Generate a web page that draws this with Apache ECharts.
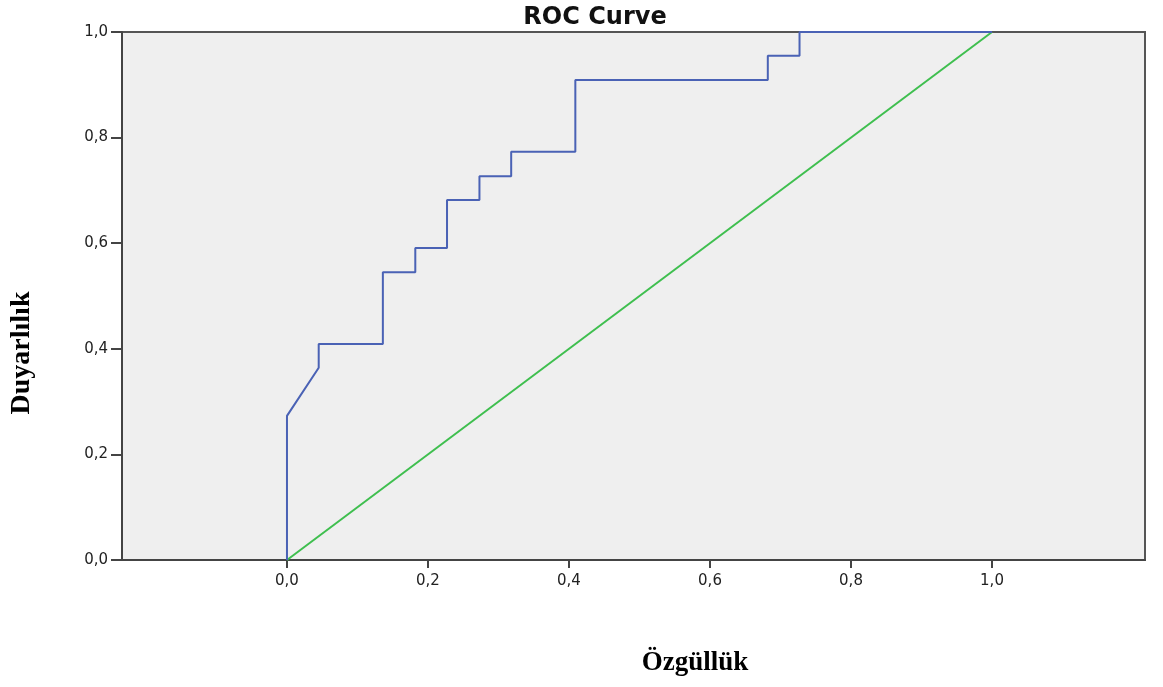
<!DOCTYPE html>
<html>
<head>
<meta charset="utf-8">
<script src="https://cdn.jsdelivr.net/npm/echarts@6/dist/echarts.min.js"></script>
<style>
html,body{margin:0;padding:0;background:#fff;}
#chart{width:1163px;height:687px;}
</style>
</head>
<body>
<div id="chart"></div>
<script>
// ROC curve points (1 - specificity, sensitivity)
const rocX = [0, 0, 0.045, 0.045, 0.136, 0.136, 0.182, 0.182, 0.227, 0.227, 0.273, 0.273, 0.318, 0.318, 0.409, 0.409, 0.682, 0.682, 0.727, 0.727, 1.0];
const rocY = [0, 0.273, 0.364, 0.409, 0.409, 0.545, 0.545, 0.591, 0.591, 0.682, 0.682, 0.727, 0.727, 0.773, 0.773, 0.909, 0.909, 0.955, 0.955, 1.0, 1.0];
// reference line
const refX = [0, 1];
const refY = [0, 1];
// tick values
const xTicks = [0, 0.2, 0.4, 0.6, 0.8, 1.0];
const titleText = 'ROC Curve';
const xName = 'Özgüllük';
const yName = 'Duyarlılık';

const fmt = v => Number(v).toFixed(1).replace('.', ',');
const zip = (a, b) => a.map((v, i) => [v, b[i]]);

const chart = echarts.init(document.getElementById('chart'));
chart.setOption({
  animation: false,
  backgroundColor: '#fff',
  title: {
    text: titleText,
    left: 590,
    top: 1,
    textAlign: 'center',
    textStyle: {fontFamily: 'DejaVu Sans', fontWeight: 'bold', fontSize: 24, color: '#111'}
  },
  grid: {
    left: 122, top: 32, right: 18, bottom: 127,
    show: true, backgroundColor: '#efefef', borderColor: '#555', borderWidth: 2
  },
  xAxis: {
    type: 'value',
    min: -0.234, max: 1.217,
    axisLine: {show: true, onZero: false, lineStyle: {color: '#444', width: 2}},
    axisTick: {show: true, customValues: xTicks, length: 8, lineStyle: {color: '#444', width: 2}},
    axisLabel: {customValues: xTicks, formatter: fmt, margin: 14, fontFamily: 'DejaVu Sans', fontSize: 15, color: '#222'},
    splitLine: {show: false}
  },
  yAxis: {
    type: 'value',
    min: 0, max: 1, interval: 0.2,
    axisLine: {show: true, onZero: false, lineStyle: {color: '#444', width: 2}},
    axisTick: {show: true, length: 11, lineStyle: {color: '#444', width: 2}},
    axisLabel: {formatter: fmt, margin: 14, fontFamily: 'DejaVu Sans', fontSize: 15, color: '#222'},
    splitLine: {show: false}
  },
  series: [
    {
      type: 'line', data: zip(refX, refY), symbol: 'none',
      lineStyle: {color: '#3fbf4f', width: 2}
    },
    {
      type: 'line', data: zip(rocX, rocY), symbol: 'none',
      lineStyle: {color: '#4a62b5', width: 2}
    }
  ],
  graphic: [
    {
      type: 'text', x: 22, y: 353, rotation: Math.PI / 2,
      style: {text: yName, font: 'bold 28px "Liberation Serif"', fill: '#000', align: 'center', verticalAlign: 'middle'}
    },
    {
      type: 'text', x: 695, y: 663,
      style: {text: xName, font: 'bold 27px "Liberation Serif"', fill: '#000', align: 'center', verticalAlign: 'middle'}
    }
  ]
});
</script>
</body>
</html>
